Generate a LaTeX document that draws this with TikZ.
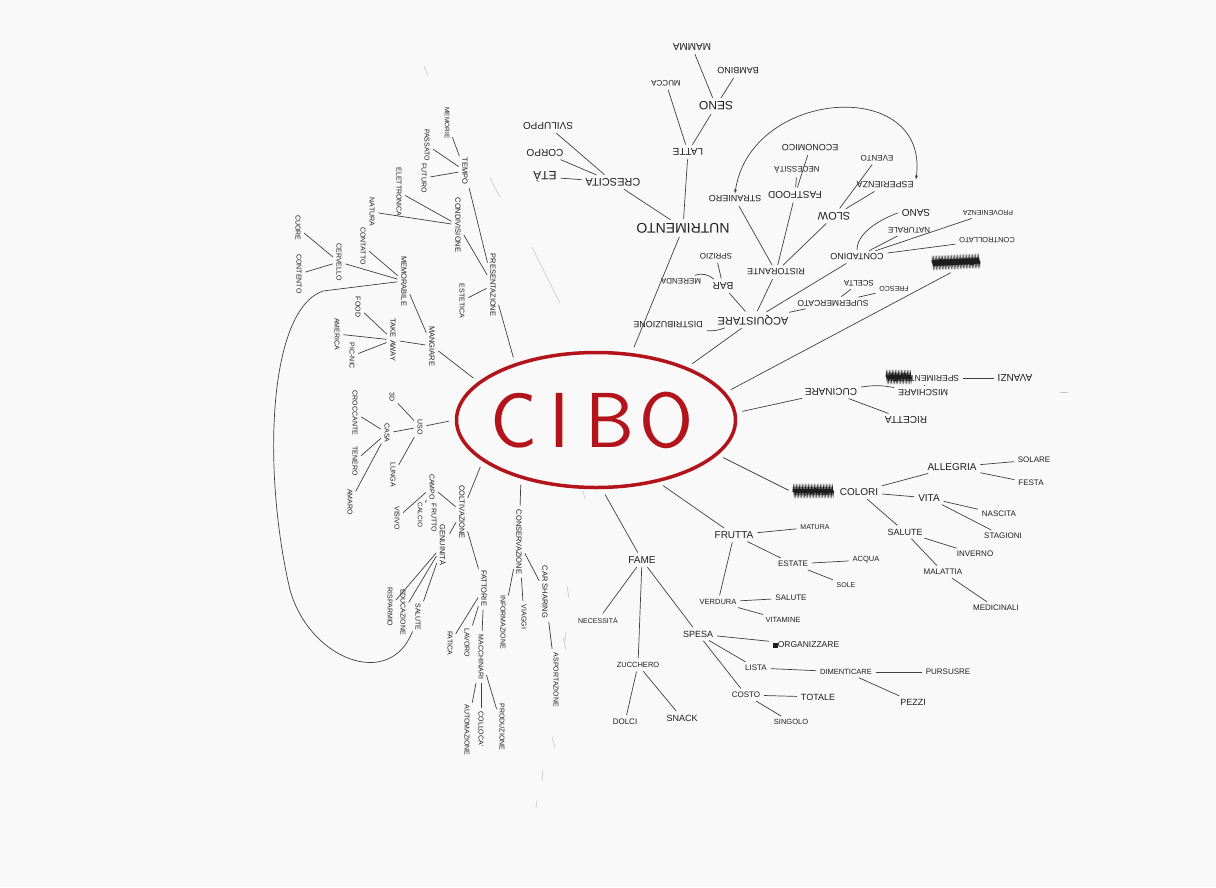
\documentclass[tikz,border=0pt]{standalone}
\usepackage{fontspec}
\newfontfamily\hw{Liberation Sans}
\usetikzlibrary{shapes.geometric,decorations.pathmorphing,arrows.meta,calc}
\definecolor{ink}{HTML}{1E1E1E}
\definecolor{cred}{HTML}{B3141C}
\definecolor{paper}{HTML}{F9F9F9}
\tikzset{
 w/.style={font={\hw\fontsize{#1}{#1}\selectfont}, text=ink, inner sep=0.5pt, outer sep=2pt},
 w/.default=8,
 up/.style={rotate=180},
 dn/.style={rotate=-90},
 ln/.style={draw=ink!85, line width=0.7pt, shorten <=1.5pt, shorten >=1.5pt},
 cl/.style={ln, shorten <=6pt},
 faint/.style={draw=black!22, line width=0.6pt},
 scrib/.style={draw=ink, line width=0.9pt, decorate, decoration={zigzag, segment length=1.5pt, amplitude=3.5pt}},
 scribr/.style={draw=ink, line width=0.9pt, decorate, decoration={random steps, segment length=1.5pt, amplitude=3pt}},
}
\begin{document}
\begin{tikzpicture}[x=1pt,y=-1pt]
\pgfmathsetseed{7}
\fill[paper] (0,0) rectangle (1216,887);
\useasboundingbox (0,0) rectangle (1216,887);

% ---------- centre ----------
\node[ellipse, draw=cred, line width=3.5pt, minimum width=279pt, minimum height=135pt, inner sep=0pt,
      text=cred, font={\sffamily\fontsize{78}{78}\selectfont}] (cibo) at (596,420)
      {\hspace{-8pt}C\hspace{12pt}I\hspace{16pt}B\hspace{5pt}O};

% ---------- top cluster (upside down) ----------
\node[w=14,up] (nutr) at (683,228) {NUTRIMENTO};
\node[w=10,up] (latte) at (688,152) {LATTE};
\node[w=8,up] (mucca) at (666,83) {MUCCA};
\node[w=10,up] (mamma) at (692,47) {MAMMA};
\node[w=12,up] (seno) at (716,106) {SENO};
\node[w=9,up] (bambino) at (738,71) {BAMBINO};
\node[w=11,up] (cresc) at (613,182) {CRESCITA};
\node[w=12,up] (eta) at (545,177) {ETÀ};
\node[w=10,up] (corpo) at (545,153) {CORPO};
\node[w=10,up] (svil) at (548,126) {SVILUPPO};
\node[w=9,up] (stran) at (735,199) {STRANIERO};
\node[w=10,up] (fast) at (795,195) {FASTFOOD};
\node[w=8,up] (neces) at (797,170) {NECESSITÀ};
\node[w=9,up] (econ) at (810,148) {ECONOMICO};
\node[w=8,up] (evento) at (877,158) {EVENTO};
\node[w=9,up] (esper) at (885,185) {ESPERIENZA};
\node[w=11,up] (slow) at (834,216) {SLOW};
\node[w=10,up] (sano) at (916,213) {SANO};
\node[w=8,up] (natur) at (909,230) {NATURALE};
\node[w=7,up] (proven) at (988,213) {PROVENIENZA};
\node[w=7.5,up] (contr) at (987,240) {CONTROLLATO};
\node[w=9,up] (contad) at (857,257) {CONTADINO};
\node[w=9,up] (rist) at (776,272) {RISTORANTE};
\node[w=8,up] (scelta) at (859,283) {SCELTA};
\node[w=7,up] (fresco) at (894,289) {FRESCO};
\node[w=8.5,up] (super) at (833,303) {SUPERMERCATO};
\node[w=11,up] (acq) at (753,320) {ACQUISTARE};
\node[w=9,up] (distr) at (668,325) {DISTRIBUZIONE};
\node[w=10,up] (bar) at (723,286) {BAR};
\node[w=8,up] (spriz) at (716,256) {SPRIZIO};
\node[w=8,up] (merenda) at (681,281) {MERENDA};
\coordinate (scribA) at (952,272);
\draw[scrib] (932,263) -- (980,261);
\draw[scribr] (933,262) -- (979,262);

% ---------- cucinare (upside down) ----------
\node[w=10,up] (cucin) at (831,392) {CUCINARE};
\node[w=9,up] (misch) at (923,393) {MISCHIARE};
\node[w=8.5,up] (sperim) at (926,378) {SPERIMENTARE};
\node[w=10,up] (avanzi) at (1015,378) {AVANZI};
\node[w=10,up] (ricetta) at (906,420) {RICETTA};
\draw[scrib] (886,377) -- (912,377);
\draw[scribr] (887,378) -- (911,376);

% ---------- colori ----------
\coordinate (scribB) at (790,491);
\draw[scrib] (793,491) -- (834,491);
\draw[scribr] (794,490) -- (833,492);
\node[w=10] (colori) at (859,492) {COLORI};
\node[w=10] (alleg) at (952,467) {ALLEGRIA};
\node[w=8] (solare) at (1034,460) {SOLARE};
\node[w=8] (festa) at (1031,483) {FESTA};
\node[w=10] (vita) at (929,498) {VITA};
\node[w=8] (nascita) at (999,514) {NASCITA};
\node[w=8] (stagioni) at (1003,536) {STAGIONI};
\node[w=9] (salute1) at (905,532) {SALUTE};
\node[w=8] (inverno) at (975,554) {INVERNO};
\node[w=8] (malattia) at (943,572) {MALATTIA};
\node[w=8] (medic) at (996,608) {MEDICINALI};

% ---------- frutta ----------
\node[w=10] (frutta) at (734,535) {FRUTTA};
\node[w=7] (matura) at (815,527) {MATURA};
\node[w=8] (estate) at (793,564) {ESTATE};
\node[w=7.5] (acqua) at (866,560) {ACQUA};
\node[w=7] (sole) at (846,585) {SOLE};
\node[w=7.5] (verdura) at (718,602) {VERDURA};
\node[w=8] (salute2) at (791,598) {SALUTE};
\node[w=7.5] (vitamine) at (783,620) {VITAMINE};

% ---------- fame ----------
\node[w=10] (fame) at (642,560) {FAME};
\node[w=7] (neces2) at (598,620) {NECESSITÀ};
\node[w=7.5] (zucch) at (638,665) {ZUCCHERO};
\node[w=8] (dolci) at (625,722) {DOLCI};
\node[w=9] (snack) at (682,718) {SNACK};
\node[w=9] (spesa) at (698,634) {SPESA};
\node[w=8.5] (organ) at (806,645) {\rule{5pt}{5pt}ORGANIZZARE};
\node[w=8] (lista) at (756,668) {LISTA};
\node[w=7.5] (diment) at (846,672) {DIMENTICARE};
\node[w=8] (purs) at (948,672) {PURSUSRE};
\node[w=9] (pezzi) at (913,702) {PEZZI};
\node[w=8] (costo) at (746,695) {COSTO};
\node[w=9] (totale) at (818,697) {TOTALE};
\node[w=7.5] (singolo) at (791,722) {SINGOLO};

% ---------- bottom-left (vertical) ----------
\node[w=7.5,dn] (conserv) at (519,542) {CONSERVAZIONE};
\node[w=7,dn] (inform) at (503,622) {INFORMAZIONE};
\node[w=7,dn] (viaggi) at (524,617) {VIAGGI};
\node[w=7.5,dn] (carsh) at (545,592) {CAR SHARING};
\node[w=7,dn] (asport) at (556,680) {ASPORTAZIONE};
\node[w=7.5,dn] (coltiv) at (462,512) {COLTIVAZIONE};
\node[w=7.5,dn] (fattorie) at (484,588) {FATTORIE};
\node[w=7,dn] (fatica) at (450,643) {FATICA};
\node[w=7,dn] (lavoro) at (467,643) {LAVORO};
\node[w=7,dn] (macch) at (481,657) {MACCHINARI};
\node[w=7,dn] (autom) at (467,730) {AUTOMAZIONE};
\node[w=7,dn] (colloca) at (481,729) {COLLOCA'};
\node[w=7,dn] (produz) at (502,727) {PRODUZIONE};
\node[w=7,dn] (campo) at (432,487) {CAMPO};
\node[w=7,dn] (frutto) at (434,518) {FRUTTO};
\node[w=6.5,dn] (calcio) at (420,515) {CALCIO};
\node[w=7,dn] (visivo) at (397,518) {VISIVO};
\node[w=7.5,dn] (genu) at (443,545) {GENUINITÀ};
\node[w=7,dn] (salute3) at (418,617) {SALUTE};
\node[w=7,dn] (educ) at (403,612) {EDUCAZIONE};
\node[w=7,dn] (rispar) at (390,607) {RISPARMIO};
\node[w=7,dn] (uso) at (420,427) {USO};
\node[w=7,dn] (tred) at (392,397) {3D};
\node[w=7,dn] (casa) at (387,433) {CASA};
\node[w=7,dn] (lunga) at (393,475) {LUNGA};
\node[w=7,dn] (crocc) at (355,413) {CROCCANTE};
\node[w=7,dn] (tenero) at (355,461) {TENERO};
\node[w=7,dn] (amaro) at (350,502) {AMARO};

% ---------- upper-left (vertical) ----------
\node[w=7.5,dn] (mangiare) at (432,346) {MANGIARE};
\node[w=7.5,dn] (takeaway) at (393,340) {TAKE AWAY};
\node[w=7,dn] (food) at (358,307) {FOOD};
\node[w=7,dn] (america) at (337,334) {AMERICA};
\node[w=7,dn] (picnic) at (352,356) {PIC-NIC};
\node[w=7.5,dn] (memor) at (404,281) {MEMORABILE};
\node[w=7,dn] (cervello) at (339,262) {CERVELLO};
\node[w=7,dn] (contatto) at (363,246) {CONTATTO};
\node[w=7,dn] (natura) at (372,212) {NATURA};
\node[w=7,dn] (cuore) at (298,228) {CUORE};
\node[w=7,dn] (contento) at (299,274) {CONTENTO};
\node[w=7.5,dn] (condiv) at (458,225) {CONDIVISIONE};
\node[w=7,dn] (elettr) at (399,192) {ELETTRONICA};
\node[w=7.5,dn] (tempo) at (465,171) {TEMPO};
\node[w=6.5,dn] (memorie) at (447,123) {MEMORIE};
\node[w=7,dn] (passato) at (427,145) {PASSATO};
\node[w=7,dn] (futuro) at (424,178) {FUTURO};
\node[w=7.5,dn] (presen) at (493,285) {PRESENTAZIONE};
\node[w=7,dn] (estet) at (462,301) {ESTETICA};

% ---------- connectors from CIBO ----------
\draw[cl] (cibo.62) -- (nutr);
\draw[cl] (cibo.30) -- (acq);
\draw[cl] (cibo.12) -- (scribA);
\draw[cl] (cibo.3) -- (cucin);
\draw[cl] (cibo.-16) -- (scribB);
\draw[cl] (cibo.-45) -- (frutta);
\draw[cl] (cibo.-85) -- (fame);
\draw[cl] (cibo.-142) -- (conserv);
\draw[cl] (cibo.-160) -- (coltiv);
\draw[cl] (cibo.west) -- (uso);
\draw[cl] (cibo.162) -- (mangiare);
\draw[cl] (cibo.145) -- (presen);

% ---------- top connectors ----------
\foreach \a/\b in {nutr/latte, nutr/cresc, cresc/eta, cresc/corpo, cresc/svil,
  latte/mucca, latte/seno, seno/mamma, seno/bambino,
  acq/bar, bar/spriz, acq/rist, acq/contad, acq/super, super/scelta, super/fresco,
  rist/stran, rist/fast, rist/slow, fast/neces, fast/econ, slow/evento, slow/esper,
  contad/natur, contad/proven, contad/contr,
  cucin/ricetta, misch/sperim, sperim/avanzi}
  \draw[ln] (\a) -- (\b);
\draw[ln] (acq) to[bend left=12] (distr);
\draw[ln] (bar) to[bend right=30] (merenda);
\draw[ln] (contad) to[out=90,in=180] (sano);
\draw[ln] (cucin) to[bend left=10] (misch);
\draw[ln, {Stealth[length=4pt]}-{Stealth[length=4pt]}, shorten <=0pt, shorten >=0pt]
  (stran.south) .. controls (750,88) and (930,76) .. (esper.south west);

% ---------- right / bottom connectors ----------
\foreach \a/\b in {colori/alleg, colori/vita, colori/salute1, alleg/solare, alleg/festa,
  vita/nascita, vita/stagioni, salute1/inverno, salute1/malattia, malattia/medic,
  frutta/matura, frutta/estate, frutta/verdura, estate/acqua, estate/sole,
  verdura/salute2, verdura/vitamine,
  fame/neces2, fame/zucch, fame/spesa, zucch/dolci, zucch/snack,
  spesa/organ, spesa/lista, spesa/costo, lista/diment, diment/purs, diment/pezzi,
  costo/totale, costo/singolo}
  \draw[ln] (\a) -- (\b);

% ---------- left connectors ----------
\foreach \a/\b in {conserv/inform, conserv/viaggi, conserv/carsh, carsh/asport,
  coltiv/campo, coltiv/genu, coltiv/fattorie, campo/frutto, campo/calcio, campo/visivo,
  genu/salute3, genu/educ, genu/rispar, fattorie/fatica, fattorie/lavoro, fattorie/macch,
  macch/autom, macch/colloca, macch/produz, uso/tred, uso/casa, uso/lunga,
  casa/crocc, casa/tenero, casa/amaro,
  mangiare/memor, mangiare/takeaway, takeaway/food, takeaway/america, takeaway/picnic,
  memor/contatto, memor/cervello, cervello/cuore, cervello/contento,
  presen/estet, presen/condiv, presen/tempo, tempo/memorie, tempo/passato, tempo/futuro,
  condiv/elettr, condiv/natura}
  \draw[ln] (\a) -- (\b);

% big loop
\draw[ln] (memor) -- (323,291) .. controls (268,310) and (262,470) .. (290,590)
  .. controls (310,660) and (390,690) .. (salute3);

% ---------- faint pencil strokes ----------
\draw[faint] (424,66) -- (428,76);
\draw[faint] (490,178) -- (500,197);
\draw[faint] (532,247) -- (560,303);
\draw[faint] (583,491) -- (585,499);
\draw[faint] (567,586) -- (569,598);
\draw[faint] (563,637) -- (566,650);
\draw[faint] (552,737) -- (555,748);
\draw[faint] (543,770) -- (542,781);
\draw[faint] (537,800) -- (536,808);
\draw[faint] (566,632) -- (565,642);
\draw[faint] (1060,392) -- (1068,392);
\end{tikzpicture}
\end{document}
